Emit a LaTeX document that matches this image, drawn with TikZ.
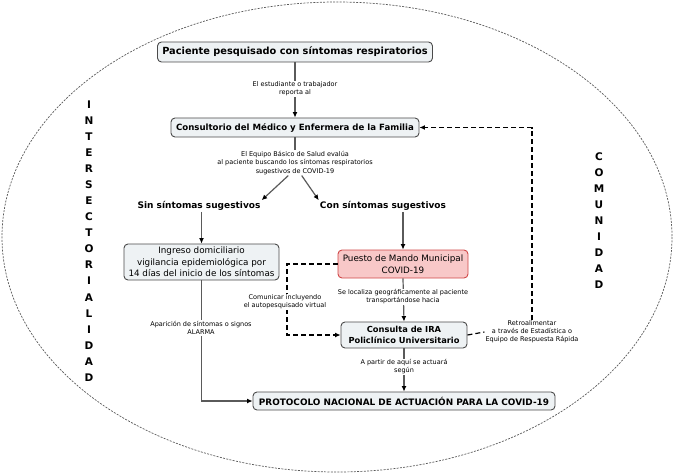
\documentclass[tikz,border=0pt]{standalone}
\usepackage{fontspec}
\setmainfont{DejaVu Sans}
\usetikzlibrary{arrows.meta}
\definecolor{boxfill}{HTML}{EEF2F4}
\definecolor{boxline}{HTML}{4A4A4A}
\definecolor{redfill}{HTML}{F8C8C8}
\definecolor{redline}{HTML}{D04848}
\definecolor{conn}{HTML}{5A5A5A}
\begin{document}
\begin{tikzpicture}[x=1pt,y=-1pt,
  box/.style={draw=boxline, fill=boxfill, rounded corners=4pt, line width=0.9pt, align=center, inner sep=1pt},
  lbl/.style={fill=white, align=center, inner sep=1pt, font=\fontsize{6.5}{8.1}\selectfont},
  head/.style={align=center, inner sep=1pt, font=\fontsize{9}{11}\selectfont\bfseries},
  conline/.style={draw=conn, line width=1.2pt},
  arr/.style={conline, -{Latex[length=5.5pt,width=5pt,black]}},
  dsh/.style={draw=black, line width=1.2pt, dash pattern=on 5pt off 3pt},
  darr/.style={dsh, -{Latex[length=5.5pt,width=5pt,black]}},
  side/.style={align=center, inner sep=0pt, font=\fontsize{10.5}{16.05}\selectfont\bfseries}
]
\useasboundingbox (0,0) rectangle (674,476);
\draw[gray!70!black, line width=0.7pt, dash pattern=on 2pt off 1.3pt] (337,237) ellipse [x radius=335, y radius=235];

% boxes
\node[box, font=\fontsize{9.8}{11}\selectfont\bfseries, minimum width=275pt, minimum height=20pt] (pac) at (295,52) {Paciente pesquisado con síntomas respiratorios};
\node[box, font=\fontsize{8.6}{10}\selectfont\bfseries, minimum width=248pt, minimum height=19pt] (cons) at (295,127.5) {Consultorio del Médico y Enfermera de la Familia};
\node[head] (sin) at (199,206) {Sin síntomas sugestivos};
\node[head] (con) at (383,206) {Con síntomas sugestivos};
\node[box, minimum width=155pt, minimum height=36pt, font=\fontsize{8.8}{11.5}\selectfont] (ing) at (201.5,262) {Ingreso domiciliario\\vigilancia epidemiológica por\\14 días del inicio de los síntomas};
\node[box, draw=redline, fill=redfill, minimum width=130pt, minimum height=28pt, font=\fontsize{8.8}{11.5}\selectfont] (pue) at (403,264) {Puesto de Mando Municipal\\COVID-19};
\node[box, minimum width=126pt, minimum height=26pt, font=\fontsize{8.3}{10.5}\selectfont\bfseries] (ira) at (404,335) {Consulta de IRA\\Policlínico Universitario};
\node[box, minimum width=302pt, minimum height=18pt, font=\fontsize{8.9}{10}\selectfont\bfseries] (pro) at (404,401) {PROTOCOLO NACIONAL DE ACTUACIÓN PARA LA COVID-19};

% side words
\node[side] (inter) at (89,241) {I\\N\\T\\E\\R\\S\\E\\C\\T\\O\\R\\I\\A\\L\\I\\D\\A\\D};
\node[side] (comu) at (599,220.5) {C\\O\\M\\U\\N\\I\\D\\A\\D};

% coordinates
\coordinate (d1) at (287,264);
\coordinate (l1pos) at (295,89);
\coordinate (l2top) at (295,150);

% connectors
\draw[arr] (pac.south) -- (cons.north);
\draw[conline] (cons.south) -- (l2top);
\node[lbl] (l2) at (295,163) {El Equipo Básico de Salud evalúa\\al paciente buscando los síntomas respiratorios\\sugestivos de COVID-19};
\draw[arr] (l2.-118) -- (sin.north east);
\draw[arr] (l2.-62) -- (con.north west);
\draw[arr] (sin.south -| ing.north) -- (ing.north);
\draw[arr] (pue.north |- con.south) -- (pue.north);
\draw[arr] (pue.south) -- (ira.north);
\draw[arr] (ira.south) -- (pro.north);
\draw[arr] (ing.south) |- (pro.west);
\draw[darr] (pue.west) -- (d1) |- (ira.west);

% labels over lines
\node[lbl] (l1) at (l1pos) {El estudiante o trabajador\\reporta al};
\node[lbl] (l3) at (403,297) {Se localiza geográficamente al paciente\\transportándose hacia};
\node[lbl] (l4) at (404,367) {A partir de aquí se actuará\\según};
\node[lbl] (l5) at (201,328) {Aparición de síntomas o signos\\ALARMA};
\node[lbl] (l6) at (285,302) {Comunicar incluyendo\\el autopesquisado virtual};
\node[lbl] (l7) at (532,332) {Retroalimentar\\a través de Estadística o\\Equipo de Respuesta Rápida};
\draw[dsh] (ira.east) -- (l7.west);
\draw[darr] (l7.north) |- (cons.east);
\end{tikzpicture}
\end{document}
